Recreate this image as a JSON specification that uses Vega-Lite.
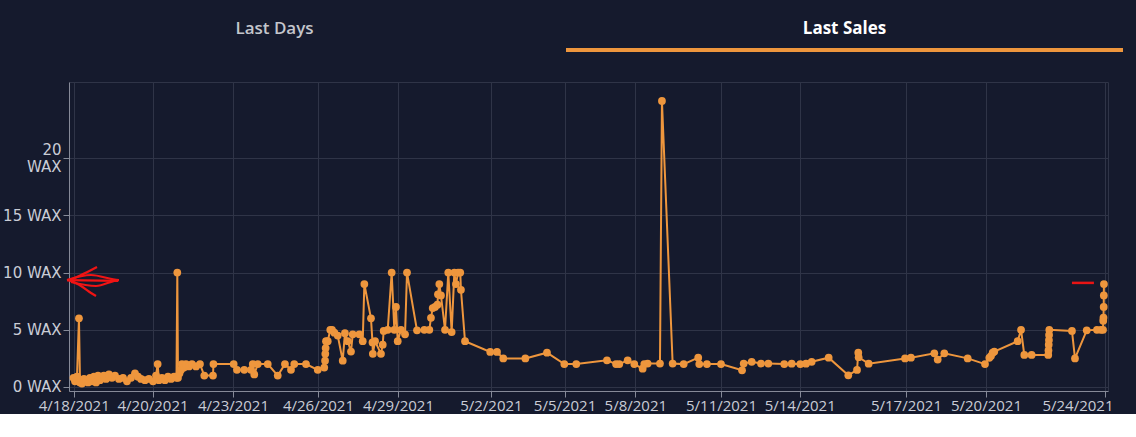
{
  "$schema": "https://vega.github.io/schema/vega-lite/v6.json",
  "background": "#151a2d",
  "padding": 0,
  "spacing": 29,
  "datasets": {
    "tabs": [{"tab": "Last Sales"}],
    "sales": [
      {"t": "2021-04-18T00:18", "v": 0.8}, {"t": "2021-04-18T01:36", "v": 0.5}, {"t": "2021-04-18T03:18", "v": 0.9},
      {"t": "2021-04-18T05:00", "v": 6.0}, {"t": "2021-04-18T05:54", "v": 0.4}, {"t": "2021-04-18T07:36", "v": 0.3},
      {"t": "2021-04-18T09:18", "v": 0.7}, {"t": "2021-04-18T11:06", "v": 0.6}, {"t": "2021-04-18T12:48", "v": 0.4},
      {"t": "2021-04-18T14:30", "v": 0.8}, {"t": "2021-04-18T16:12", "v": 0.5}, {"t": "2021-04-18T17:54", "v": 0.9},
      {"t": "2021-04-18T19:42", "v": 0.4}, {"t": "2021-04-18T21:24", "v": 1.0}, {"t": "2021-04-18T23:06", "v": 0.6},
      {"t": "2021-04-19T00:48", "v": 0.9}, {"t": "2021-04-19T02:30", "v": 1.0}, {"t": "2021-04-19T04:18", "v": 0.7},
      {"t": "2021-04-19T06:48", "v": 1.1}, {"t": "2021-04-19T09:24", "v": 0.8}, {"t": "2021-04-19T12:00", "v": 1.0},
      {"t": "2021-04-19T15:24", "v": 0.7}, {"t": "2021-04-19T18:54", "v": 0.8}, {"t": "2021-04-19T22:18", "v": 0.5},
      {"t": "2021-04-20T01:48", "v": 0.8}, {"t": "2021-04-20T05:12", "v": 1.2}, {"t": "2021-04-20T07:48", "v": 0.9},
      {"t": "2021-04-20T10:24", "v": 0.7}, {"t": "2021-04-20T13:48", "v": 0.6}, {"t": "2021-04-20T17:12", "v": 0.7},
      {"t": "2021-04-20T20:42", "v": 0.5}, {"t": "2021-04-20T23:18", "v": 1.0}, {"t": "2021-04-21T00:42", "v": 2.0},
      {"t": "2021-04-21T01:48", "v": 0.6}, {"t": "2021-04-21T04:24", "v": 0.8}, {"t": "2021-04-21T07:00", "v": 0.6},
      {"t": "2021-04-21T09:36", "v": 0.9}, {"t": "2021-04-21T12:12", "v": 0.7}, {"t": "2021-04-21T14:48", "v": 0.9},
      {"t": "2021-04-21T16:54", "v": 0.8}, {"t": "2021-04-21T17:36", "v": 10.0}, {"t": "2021-04-21T18:12", "v": 0.8},
      {"t": "2021-04-21T19:30", "v": 1.2}, {"t": "2021-04-21T20:48", "v": 1.5}, {"t": "2021-04-21T21:36", "v": 2.0},
      {"t": "2021-04-21T23:18", "v": 1.7}, {"t": "2021-04-22T01:06", "v": 2.0}, {"t": "2021-04-22T03:42", "v": 1.8},
      {"t": "2021-04-22T06:12", "v": 2.0}, {"t": "2021-04-22T09:42", "v": 1.8}, {"t": "2021-04-22T13:06", "v": 2.0},
      {"t": "2021-04-22T16:48", "v": 1.0}, {"t": "2021-04-23T00:18", "v": 1.0}, {"t": "2021-04-23T00:42", "v": 2.0},
      {"t": "2021-04-23T18:06", "v": 2.0}, {"t": "2021-04-23T20:54", "v": 1.5}, {"t": "2021-04-24T03:12", "v": 1.5},
      {"t": "2021-04-24T09:00", "v": 1.5}, {"t": "2021-04-24T10:30", "v": 2.0}, {"t": "2021-04-24T11:48", "v": 1.1},
      {"t": "2021-04-24T14:48", "v": 2.0}, {"t": "2021-04-24T23:24", "v": 2.0}, {"t": "2021-04-25T08:00", "v": 1.0},
      {"t": "2021-04-25T14:12", "v": 2.0}, {"t": "2021-04-25T19:24", "v": 1.5}, {"t": "2021-04-25T22:12", "v": 2.0},
      {"t": "2021-04-26T08:18", "v": 2.0}, {"t": "2021-04-26T18:24", "v": 1.5}, {"t": "2021-04-27T00:00", "v": 1.7},
      {"t": "2021-04-27T00:42", "v": 2.3}, {"t": "2021-04-27T00:54", "v": 2.9}, {"t": "2021-04-27T01:12", "v": 3.4},
      {"t": "2021-04-27T01:30", "v": 4.0}, {"t": "2021-04-27T03:00", "v": 4.0}, {"t": "2021-04-27T05:12", "v": 5.0},
      {"t": "2021-04-27T06:42", "v": 5.0}, {"t": "2021-04-27T08:42", "v": 4.75}, {"t": "2021-04-27T11:36", "v": 4.5},
      {"t": "2021-04-27T15:54", "v": 2.3}, {"t": "2021-04-27T17:48", "v": 4.7}, {"t": "2021-04-27T20:12", "v": 4.0},
      {"t": "2021-04-27T23:00", "v": 3.1}, {"t": "2021-04-28T00:30", "v": 4.6}, {"t": "2021-04-28T06:12", "v": 4.6},
      {"t": "2021-04-28T09:06", "v": 4.0}, {"t": "2021-04-28T10:30", "v": 9.0}, {"t": "2021-04-28T16:12", "v": 6.0},
      {"t": "2021-04-28T17:30", "v": 3.9}, {"t": "2021-04-28T17:48", "v": 2.9}, {"t": "2021-04-28T19:42", "v": 4.0},
      {"t": "2021-04-29T00:48", "v": 2.9}, {"t": "2021-04-29T02:18", "v": 3.7}, {"t": "2021-04-29T03:06", "v": 4.9},
      {"t": "2021-04-29T06:36", "v": 5.0}, {"t": "2021-04-29T10:00", "v": 10.0}, {"t": "2021-04-29T12:18", "v": 5.0},
      {"t": "2021-04-29T13:42", "v": 7.0}, {"t": "2021-04-29T15:12", "v": 4.0}, {"t": "2021-04-29T18:00", "v": 5.0},
      {"t": "2021-04-29T21:30", "v": 4.6}, {"t": "2021-04-29T23:12", "v": 10.0}, {"t": "2021-04-30T07:48", "v": 4.95},
      {"t": "2021-04-30T14:06", "v": 5.0}, {"t": "2021-04-30T18:24", "v": 5.0}, {"t": "2021-04-30T19:48", "v": 6.05},
      {"t": "2021-04-30T21:18", "v": 6.9}, {"t": "2021-04-30T23:18", "v": 7.0}, {"t": "2021-05-01T01:24", "v": 7.2},
      {"t": "2021-05-01T01:48", "v": 8.1}, {"t": "2021-05-01T03:00", "v": 9.0}, {"t": "2021-05-01T04:24", "v": 8.0},
      {"t": "2021-05-01T07:54", "v": 5.0}, {"t": "2021-05-01T10:42", "v": 10.0}, {"t": "2021-05-01T13:36", "v": 4.8},
      {"t": "2021-05-01T15:54", "v": 10.0}, {"t": "2021-05-01T17:18", "v": 9.0}, {"t": "2021-05-01T19:06", "v": 10.0},
      {"t": "2021-05-01T21:00", "v": 10.0}, {"t": "2021-05-01T21:36", "v": 8.5}, {"t": "2021-05-02T01:06", "v": 4.0},
      {"t": "2021-05-02T22:48", "v": 3.06}, {"t": "2021-05-03T04:36", "v": 3.06}, {"t": "2021-05-03T10:00", "v": 2.5},
      {"t": "2021-05-04T05:00", "v": 2.5}, {"t": "2021-05-04T23:36", "v": 3.0}, {"t": "2021-05-05T14:30", "v": 2.0},
      {"t": "2021-05-06T00:48", "v": 2.0}, {"t": "2021-05-07T03:12", "v": 2.33}, {"t": "2021-05-07T11:00", "v": 2.0},
      {"t": "2021-05-07T13:48", "v": 2.0}, {"t": "2021-05-07T21:00", "v": 2.33}, {"t": "2021-05-08T02:42", "v": 2.0},
      {"t": "2021-05-08T09:54", "v": 1.6}, {"t": "2021-05-08T11:18", "v": 2.0}, {"t": "2021-05-08T14:12", "v": 2.05},
      {"t": "2021-05-09T00:48", "v": 2.05}, {"t": "2021-05-09T02:30", "v": 25.0}, {"t": "2021-05-09T11:42", "v": 2.05},
      {"t": "2021-05-09T21:12", "v": 2.0}, {"t": "2021-05-10T09:42", "v": 2.56}, {"t": "2021-05-10T10:36", "v": 2.0},
      {"t": "2021-05-10T17:12", "v": 2.0}, {"t": "2021-05-11T05:18", "v": 2.0}, {"t": "2021-05-11T23:24", "v": 1.46},
      {"t": "2021-05-12T00:48", "v": 2.05}, {"t": "2021-05-12T07:42", "v": 2.2}, {"t": "2021-05-12T15:42", "v": 2.05},
      {"t": "2021-05-12T22:00", "v": 2.05}, {"t": "2021-05-13T11:42", "v": 2.0}, {"t": "2021-05-13T18:06", "v": 2.04},
      {"t": "2021-05-14T01:30", "v": 2.0}, {"t": "2021-05-14T06:24", "v": 2.04}, {"t": "2021-05-14T11:18", "v": 2.2},
      {"t": "2021-05-15T01:54", "v": 2.56}, {"t": "2021-05-15T18:48", "v": 1.02}, {"t": "2021-05-16T02:18", "v": 1.49},
      {"t": "2021-05-16T03:24", "v": 3.0}, {"t": "2021-05-16T03:42", "v": 2.6}, {"t": "2021-05-16T12:18", "v": 2.04},
      {"t": "2021-05-17T19:36", "v": 2.5}, {"t": "2021-05-18T00:42", "v": 2.56}, {"t": "2021-05-18T20:48", "v": 2.94},
      {"t": "2021-05-18T23:42", "v": 2.4}, {"t": "2021-05-19T05:24", "v": 2.94}, {"t": "2021-05-20T01:30", "v": 2.5},
      {"t": "2021-05-20T16:24", "v": 2.0}, {"t": "2021-05-20T20:06", "v": 2.55}, {"t": "2021-05-20T21:30", "v": 2.7},
      {"t": "2021-05-20T23:00", "v": 3.0}, {"t": "2021-05-21T00:24", "v": 3.1}, {"t": "2021-05-21T20:30", "v": 4.0},
      {"t": "2021-05-21T23:24", "v": 5.0}, {"t": "2021-05-22T02:12", "v": 2.8}, {"t": "2021-05-22T08:30", "v": 2.8},
      {"t": "2021-05-22T22:48", "v": 2.8}, {"t": "2021-05-22T23:00", "v": 3.2}, {"t": "2021-05-22T23:12", "v": 3.7},
      {"t": "2021-05-22T23:24", "v": 4.1}, {"t": "2021-05-22T23:30", "v": 4.55}, {"t": "2021-05-22T23:42", "v": 5.0},
      {"t": "2021-05-23T19:12", "v": 4.9}, {"t": "2021-05-23T21:48", "v": 2.5}, {"t": "2021-05-24T07:54", "v": 4.95},
      {"t": "2021-05-24T16:42", "v": 5.0}, {"t": "2021-05-24T20:06", "v": 5.0}, {"t": "2021-05-24T21:54", "v": 5.0},
      {"t": "2021-05-24T22:06", "v": 5.8}, {"t": "2021-05-24T22:18", "v": 6.06}, {"t": "2021-05-24T22:30", "v": 7.0},
      {"t": "2021-05-24T22:36", "v": 8.0}, {"t": "2021-05-24T22:42", "v": 9.0}
    ],
    "scribble": [
      {"s": "a", "o": 1, "t": "2021-04-17T18:43", "v": 9.35},
      {"s": "a", "o": 2, "t": "2021-04-19T14:36", "v": 9.27},
      {"s": "b", "o": 1, "t": "2021-04-17T18:43", "v": 9.35},
      {"s": "b", "o": 2, "t": "2021-04-18T15:22", "v": 9.79},
      {"s": "b", "o": 3, "t": "2021-04-19T15:26", "v": 9.35},
      {"s": "b", "o": 4, "t": "2021-04-18T19:40", "v": 8.83},
      {"s": "b", "o": 5, "t": "2021-04-17T22:09", "v": 9.18},
      {"s": "c", "o": 1, "t": "2021-04-18T20:31", "v": 10.49},
      {"s": "c", "o": 2, "t": "2021-04-18T06:46", "v": 9.79},
      {"s": "c", "o": 3, "t": "2021-04-17T18:43", "v": 9.35},
      {"s": "c", "o": 4, "t": "2021-04-18T06:46", "v": 8.83},
      {"s": "c", "o": 5, "t": "2021-04-18T15:22", "v": 8.22},
      {"s": "c", "o": 6, "t": "2021-04-18T19:40", "v": 7.95}
    ],
    "redline": [{"t": "2021-05-23T19:12", "t2": "2021-05-24T14:06", "v": 9.1}]
  },
  "vconcat": [
    {
      "width": 1054,
      "height": 4,
      "view": {"stroke": null},
      "data": {"name": "tabs"},
      "mark": {"type": "bar", "color": "#ee963d"},
      "encoding": {
        "x": {
          "field": "tab",
          "type": "nominal",
          "scale": {"domain": ["Last Days", "Last Sales"], "range": [-73, 1054], "paddingInner": 0.0228, "paddingOuter": 0},
          "axis": {
            "orient": "top",
            "title": null,
            "labelAngle": 0,
            "domain": false,
            "ticks": false,
            "tickSize": 0,
            "grid": false,
            "labelPadding": 11,
            "labelFont": "Open Sans",
            "labelFontSize": 17,
            "labelColor": {"condition": {"test": "datum.value == 'Last Sales'", "value": "#ffffff"}, "value": "#c4c6cc"},
            "labelFontWeight": {"condition": {"test": "datum.value == 'Last Sales'", "value": 700}, "value": 600},
            "minExtent": 48,
            "maxExtent": 48
          }
        }
      }
    },
    {
      "width": 1039,
      "height": 309,
      "layer": [
        {
          "data": {"name": "sales"},
          "mark": {
            "type": "line",
            "color": "#ee963d",
            "strokeWidth": 2,
            "point": {"filled": true, "size": 60, "color": "#ee963d", "opacity": 1}
          },
          "encoding": {
            "x": {
              "field": "t",
              "type": "temporal",
              "title": null,
              "scale": {
                "domain": [
                  {"year": 2021, "month": 4, "date": 17, "hours": 20, "minutes": 26},
                  {"year": 2021, "month": 5, "date": 25, "hours": 2, "minutes": 12}
                ],
                "nice": false
              },
              "axis": {
                "values": [
                  {"year": 2021, "month": 4, "date": 18, "hours": 0, "minutes": 29},
                  {"year": 2021, "month": 4, "date": 20, "hours": 20, "minutes": 18},
                  {"year": 2021, "month": 4, "date": 23, "hours": 17, "minutes": 30},
                  {"year": 2021, "month": 4, "date": 26, "hours": 18, "minutes": 36},
                  {"year": 2021, "month": 4, "date": 29, "hours": 15, "minutes": 24},
                  {"year": 2021, "month": 5, "date": 2, "hours": 23, "minutes": 24},
                  {"year": 2021, "month": 5, "date": 5, "hours": 14, "minutes": 42},
                  {"year": 2021, "month": 5, "date": 8, "hours": 3, "minutes": 36},
                  {"year": 2021, "month": 5, "date": 11, "hours": 5, "minutes": 18},
                  {"year": 2021, "month": 5, "date": 14, "hours": 1, "minutes": 0},
                  {"year": 2021, "month": 5, "date": 17, "hours": 20, "minutes": 24},
                  {"year": 2021, "month": 5, "date": 20, "hours": 17, "minutes": 12},
                  {"year": 2021, "month": 5, "date": 24, "hours": 23, "minutes": 12}
                ],
                "labelExpr": "timeFormat(datum.value, '%-m/%-d/%Y')",
                "labelOverlap": false,
                "labelFlush": 4.1,
                "labelFlushOffset": 8.5,
                "tickSize": 6,
                "labelPadding": 1
              }
            },
            "y": {
              "field": "v",
              "type": "quantitative",
              "title": null,
              "scale": {"domain": [-0.35, 26.66], "nice": false, "zero": false},
              "axis": {
                "values": [0, 5, 10, 15, 20],
                "labelExpr": "datum.value == 20 ? ['20', 'WAX'] : datum.label + ' WAX'",
                "labelFont": "DejaVu Sans",
                "labelFontSize": 15,
                "labelLineHeight": 17,
                "labelOffset": {"condition": {"test": "datum.value == 20", "value": -8.5}, "value": 0},
                "tickSize": 6,
                "labelPadding": 2,
                "minExtent": 68,
                "maxExtent": 68
              }
            }
          }
        },
        {
          "data": {"name": "scribble"},
          "mark": {"type": "line", "color": "#f01414", "strokeWidth": 2.2, "clip": false, "interpolate": "monotone"},
          "encoding": {
            "x": {"field": "t", "type": "temporal"},
            "y": {"field": "v", "type": "quantitative"},
            "detail": {"field": "s"},
            "order": {"field": "o"}
          }
        },
        {
          "data": {"name": "redline"},
          "mark": {"type": "rule", "color": "#e81414", "strokeWidth": 2.5},
          "encoding": {
            "x": {"field": "t", "type": "temporal"},
            "x2": {"field": "t2"},
            "y": {"field": "v", "type": "quantitative"}
          }
        }
      ]
    }
  ],
  "config": {
    "view": {"stroke": "#2f3447"},
    "axis": {
      "gridColor": "#2f3447",
      "gridOpacity": 1,
      "domainColor": "#868a98",
      "tickColor": "#868a98",
      "labelColor": "#c9ccd6",
      "labelFont": "Open Sans",
      "labelFontSize": 15
    }
  }
}
